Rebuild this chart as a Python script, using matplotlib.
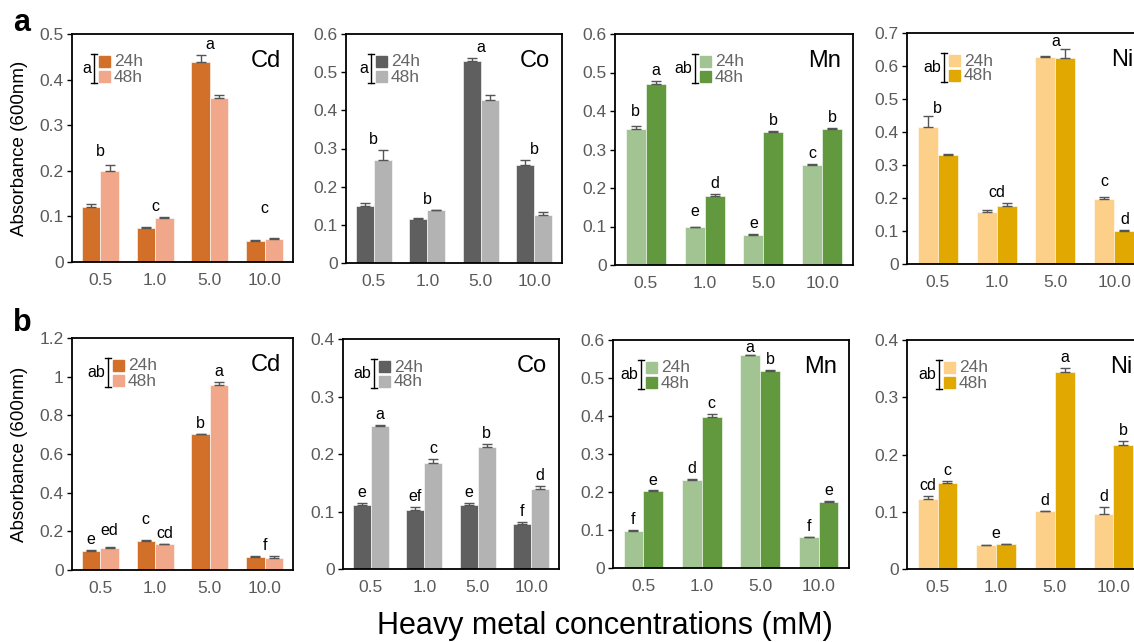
import numpy as np
import matplotlib.pyplot as plt
from matplotlib.patches import Rectangle
from matplotlib.lines import Line2D
from matplotlib.ticker import FuncFormatter

plt.rcParams['font.family'] = ['Liberation Sans', 'DejaVu Sans']

# x categories (mM)
conc = ['0.5', '1.0', '5.0', '10.0']

# ---- row a ----
a_cd_24 = [0.121, 0.074, 0.438, 0.046]
a_cd_24_err = [0.006, 0.002, 0.015, 0.002]
a_cd_48 = [0.200, 0.097, 0.359, 0.050]
a_cd_48_err = [0.013, 0.001, 0.008, 0.002]
a_cd_sig = [(0, None, 'b'), (1, None, 'c'), (2, None, 'a'), (3, None, 'c')]

a_co_24 = [0.149, 0.115, 0.530, 0.258]
a_co_24_err = [0.007, 0.002, 0.006, 0.011]
a_co_48 = [0.271, 0.138, 0.428, 0.125]
a_co_48_err = [0.026, 0.002, 0.013, 0.008]
a_co_sig = [(0, None, 'b'), (1, None, 'b'), (2, None, 'a'), (3, None, 'b')]

a_mn_24 = [0.352, 0.098, 0.079, 0.259]
a_mn_24_err = [0.009, 0.002, 0.002, 0.003]
a_mn_48 = [0.469, 0.178, 0.346, 0.352]
a_mn_48_err = [0.010, 0.006, 0.001, 0.003]
a_mn_sig = [(0, 0, 'b'), (0, 1, 'a'), (1, 0, 'e'), (1, 1, 'd'),
            (2, 0, 'e'), (2, 1, 'b'), (3, 0, 'c'), (3, 1, 'b')]

a_ni_24 = [0.414, 0.158, 0.627, 0.196]
a_ni_24_err = [0.035, 0.007, 0.002, 0.006]
a_ni_48 = [0.331, 0.176, 0.625, 0.100]
a_ni_48_err = [0.003, 0.008, 0.027, 0.003]
a_ni_sig = [(0, None, 'b'), (1, None, 'cd'), (2, None, 'a'), (3, 0, 'c'), (3, 1, 'd')]

# ---- row b ----
b_cd_24 = [0.100, 0.152, 0.703, 0.069]
b_cd_24_err = [0.005, 0.005, 0.001, 0.003]
b_cd_48 = [0.114, 0.135, 0.957, 0.064]
b_cd_48_err = [0.005, 0.002, 0.013, 0.008]
b_cd_sig = [(0, 0, 'e'), (0, 1, 'ed'), (1, 0, 'c'), (1, 1, 'cd'),
            (2, 0, 'b'), (2, 1, 'a'), (3, None, 'f')]

b_co_24 = [0.111, 0.102, 0.111, 0.078]
b_co_24_err = [0.004, 0.006, 0.004, 0.003]
b_co_48 = [0.249, 0.184, 0.213, 0.139]
b_co_48_err = [0.002, 0.008, 0.005, 0.006]
b_co_sig = [(0, 0, 'e'), (0, 1, 'a'), (1, 0, 'ef'), (1, 1, 'c'),
            (2, 0, 'e'), (2, 1, 'b'), (3, 0, 'f'), (3, 1, 'd')]

b_mn_24 = [0.097, 0.232, 0.561, 0.082]
b_mn_24_err = [0.003, 0.003, 0.0, 0.0]
b_mn_48 = [0.202, 0.397, 0.519, 0.173]
b_mn_48_err = [0.002, 0.009, 0.003, 0.003]
b_mn_sig = [(0, 0, 'f'), (0, 1, 'e'), (1, 0, 'd'), (1, 1, 'c'),
            (2, 0, 'a'), (2, 1, 'b'), (3, 0, 'f'), (3, 1, 'e')]

b_ni_24 = [0.123, 0.042, 0.101, 0.096]
b_ni_24_err = [0.005, 0.0, 0.001, 0.013]
b_ni_48 = [0.150, 0.043, 0.344, 0.216]
b_ni_48_err = [0.004, 0.001, 0.007, 0.008]
b_ni_sig = [(0, 0, 'cd'), (0, 1, 'c'), (1, None, 'e'), (2, 0, 'd'),
            (2, 1, 'a'), (3, 0, 'd'), (3, 1, 'b')]

# colours per metal (24h, 48h)
colors = {'Cd': ('#D2702A', '#F1A88A'),
          'Co': ('#5F5F5F', '#B3B3B3'),
          'Mn': ('#A2C492', '#62993E'),
          'Ni': ('#FDD089', '#E0A800')}

# row, metal, data..., legend letter, ymax, tick step
panels = [
    ('a', 'Cd', a_cd_24, a_cd_24_err, a_cd_48, a_cd_48_err, a_cd_sig, 'a', 0.5, 0.1),
    ('a', 'Co', a_co_24, a_co_24_err, a_co_48, a_co_48_err, a_co_sig, 'a', 0.6, 0.1),
    ('a', 'Mn', a_mn_24, a_mn_24_err, a_mn_48, a_mn_48_err, a_mn_sig, 'ab', 0.6, 0.1),
    ('a', 'Ni', a_ni_24, a_ni_24_err, a_ni_48, a_ni_48_err, a_ni_sig, 'ab', 0.7, 0.1),
    ('b', 'Cd', b_cd_24, b_cd_24_err, b_cd_48, b_cd_48_err, b_cd_sig, 'ab', 1.2, 0.2),
    ('b', 'Co', b_co_24, b_co_24_err, b_co_48, b_co_48_err, b_co_sig, 'ab', 0.4, 0.1),
    ('b', 'Mn', b_mn_24, b_mn_24_err, b_mn_48, b_mn_48_err, b_mn_sig, 'ab', 0.6, 0.1),
    ('b', 'Ni', b_ni_24, b_ni_24_err, b_ni_48, b_ni_48_err, b_ni_sig, 'ab', 0.4, 0.1),
]

# layout in pixels: axes box (left, top, right, bottom) and legend x offset
boxes = [(72, 34, 293, 262), (346, 34, 562, 263), (615, 34, 853, 265), (907, 33, 1145, 264),
         (72, 338, 293, 570), (343, 339, 559, 569), (613, 340, 849, 568), (907, 340, 1144, 569)]
leg_dx = [22, 25, 80, 37, 36, 31, 28, 32]
# extra lift (points) for some significance letters
lift = {('a', 'Cd', 3): 14, ('a', 'Cd', 0): 2, ('a', 'Mn', 0): 3, ('a', 'Mn', 2): 3,
        ('a', 'Ni', 0): -2, ('a', 'Ni', 2): -2, ('a', 'Ni', 3): 4,
        ('b', 'Cd', 1): 4, ('b', 'Cd', 2): 7, ('b', 'Mn', 4): -2}

W, H = 1134, 642
fig = plt.figure(figsize=(W / 100, H / 100), dpi=100)


def fx(x):
    return x / W


def fy(y):
    return 1 - y / H


x = np.arange(len(conc))
w = 0.34
err_kw = dict(ecolor='#555555', elinewidth=1, capsize=3.5, capthick=1)

for p, box, dx in zip(panels, boxes, leg_dx):
    row, name, v24, e24, v48, e48, sig, leg_letter, ymax, step = p
    c24, c48 = colors[name]
    l, t, r, b = box
    ax = fig.add_axes([fx(l), fy(b), (r - l) / W, (b - t) / H])

    ax.bar(x - w / 2, v24, w, color=c24, edgecolor='white', linewidth=0.4,
           yerr=[np.zeros(len(v24)), e24], error_kw=err_kw, zorder=2)
    ax.bar(x + w / 2, v48, w, color=c48, edgecolor='white', linewidth=0.4,
           yerr=[np.zeros(len(v48)), e48], error_kw=err_kw, zorder=2)

    tops24 = np.array(v24) + np.array(e24)
    tops48 = np.array(v48) + np.array(e48)
    for i, (g, which, lab) in enumerate(sig):
        if which is None:
            xx, yy = g, max(tops24[g], tops48[g])
        elif which == 0:
            xx, yy = g - w / 2, tops24[g]
        else:
            xx, yy = g + w / 2, tops48[g]
        ax.annotate(lab, (xx, yy), xytext=(0, 4.3 + lift.get((row, name, i), 0)),
                    textcoords='offset points', ha='center', va='baseline',
                    fontsize=11.5, color='black')

    ax.set_xlim(-0.52, 3.52)
    ax.set_ylim(0, ymax)
    ax.set_xticks(x)
    ax.set_xticklabels(conc)
    ax.set_yticks(np.round(np.arange(0, ymax + step / 2, step), 2))
    ax.yaxis.set_major_formatter(FuncFormatter(lambda v, pos: '{:g}'.format(round(v, 2))))
    ax.tick_params(axis='x', length=0, pad=8, labelsize=12.5, labelcolor='#5a5a5a')
    ax.tick_params(axis='y', length=3.5, width=1, pad=2.5, labelsize=12.5,
                   labelcolor='#5a5a5a', direction='out')
    for s in ax.spines.values():
        s.set_linewidth(1.3)
        s.set_color('black')

    # metal name
    fig.text(fx(r - 12), fy(t + 27), name, ha='right', va='center', fontsize=17)

    # small legend with bracket
    bx, by = l + dx, t + 20
    fig.add_artist(Line2D([fx(bx), fx(bx)], [fy(by), fy(by + 29)], color='black', lw=1))
    for yy in (by, by + 29):
        fig.add_artist(Line2D([fx(bx - 3), fx(bx + 3)], [fy(yy), fy(yy)], color='black', lw=1))
    fig.text(fx(bx - 2.5), fy(by + 14.5), leg_letter, ha='right', va='center', fontsize=11.5)
    fig.add_artist(Rectangle((fx(bx + 5), fy(by + 13)), 11 / W, 11 / H, color=c24,
                             transform=fig.transFigure))
    fig.add_artist(Rectangle((fx(bx + 5), fy(by + 28)), 11 / W, 11 / H, color=c48,
                             transform=fig.transFigure))
    fig.text(fx(bx + 20), fy(by + 8), '24h', ha='left', va='center', fontsize=12.5, color='#666666')
    fig.text(fx(bx + 20), fy(by + 23), '48h', ha='left', va='center', fontsize=12.5, color='#666666')

    if name == 'Cd':
        fig.text(fx(19.5), fy((t + b) / 2), 'Absorbance (600nm)', rotation=90,
                 ha='center', va='center', fontsize=13.5)

fig.text(fx(13), fy(31), 'a', fontsize=22, fontweight='bold', va='baseline')
fig.text(fx(13), fy(331), 'b', fontsize=22, fontweight='bold', va='baseline')
fig.text(fx(605), fy(626), 'Heavy metal concentrations (mM)', ha='center', va='center', fontsize=22)

fig.savefig('out.png', dpi=100)
